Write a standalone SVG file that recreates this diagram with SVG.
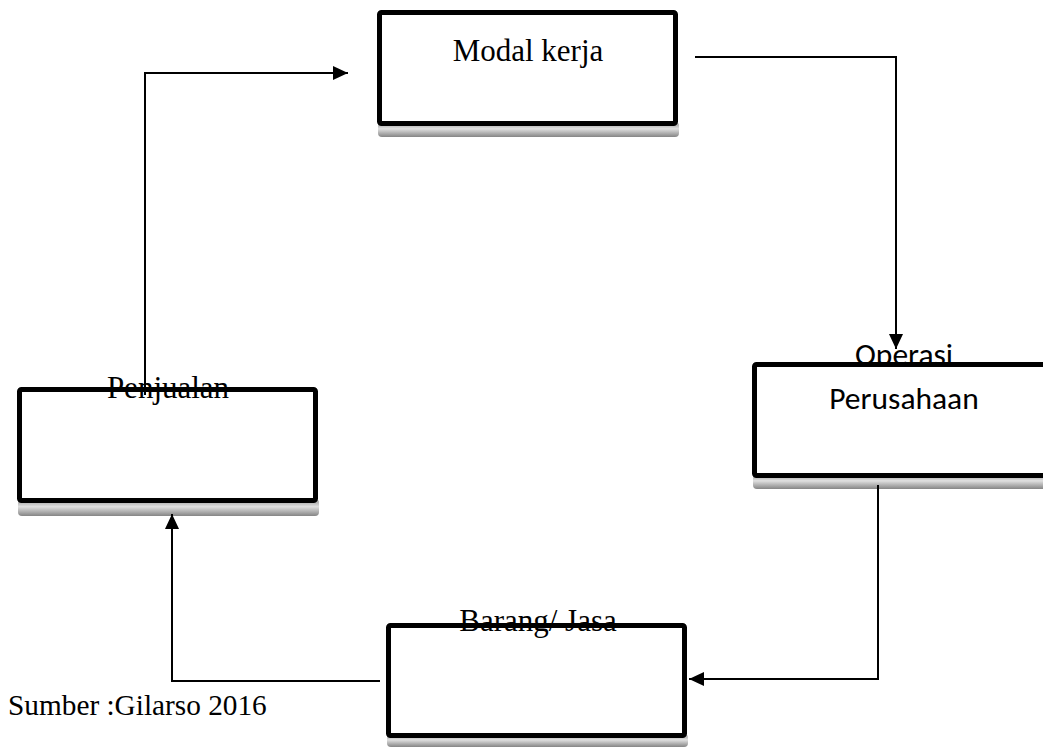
<svg xmlns="http://www.w3.org/2000/svg" width="1043" height="747" viewBox="0 0 1043 747">
<defs>
<linearGradient id="shd" x1="0" y1="0" x2="0" y2="1">
<stop offset="0" stop-color="#8f8f8f"/>
<stop offset="0.45" stop-color="#e0e0e0"/>
<stop offset="1" stop-color="#858585"/>
</linearGradient>
<marker id="arr" markerUnits="userSpaceOnUse" markerWidth="17" markerHeight="16" refX="15" refY="7" orient="auto">
<path d="M0,0 L15,7 L0,14 Z" fill="#000"/>
</marker>
<style>
.box{fill:#fff;stroke:#000;stroke-width:5}
.sh{fill:url(#shd)}
.serif{font-family:"Liberation Serif","Times New Roman",serif;font-size:31px;fill:#000}
.sans{font-family:Carlito,Calibri,Lato,sans-serif;font-size:31.5px;fill:#000}
.con{fill:none;stroke:#000;stroke-width:2}
</style>
</defs>
<rect width="1043" height="747" fill="#fff"/>
<g id="modal-kerja">
<rect class="sh" x="378" y="122" width="301" height="15" rx="4"/>
<rect class="box" x="379.5" y="12.5" width="296" height="111" rx="2"/>
<text class="serif" x="528" y="61" text-anchor="middle">Modal kerja</text>
</g>
<g id="operasi-perusahaan">
<text class="sans" x="904" y="365" text-anchor="middle">Operasi</text>
<rect class="sh" x="753" y="474" width="300" height="15" rx="4"/>
<rect class="box" x="754.5" y="364.5" width="300" height="111" rx="2"/>
<text class="sans" x="904" y="409" text-anchor="middle">Perusahaan</text>
</g>
<g id="penjualan">
<rect class="sh" x="18" y="499" width="301" height="17" rx="4"/>
<rect class="box" x="19.5" y="389.5" width="296" height="111" rx="2"/>
<text class="serif" x="168" y="398" text-anchor="middle">Penjualan</text>
</g>
<g id="barang-jasa">
<rect class="sh" x="387" y="734" width="301" height="13" rx="4"/>
<rect class="box" x="388.5" y="625.5" width="296" height="110" rx="2"/>
<text class="serif" x="538" y="631" text-anchor="middle">Barang/ Jasa</text>
</g>
<g id="connectors">
<path class="con" d="M145,395 V73 H348" marker-end="url(#arr)"/>
<path class="con" d="M695,57 H896 V349" marker-end="url(#arr)"/>
<path class="con" d="M878,485 V679 H689" marker-end="url(#arr)"/>
<path class="con" d="M380,681 H172 V514" marker-end="url(#arr)"/>
</g>
<text class="serif" x="8" y="715" style="font-size:29.3px">Sumber :Gilarso 2016</text>
</svg>
